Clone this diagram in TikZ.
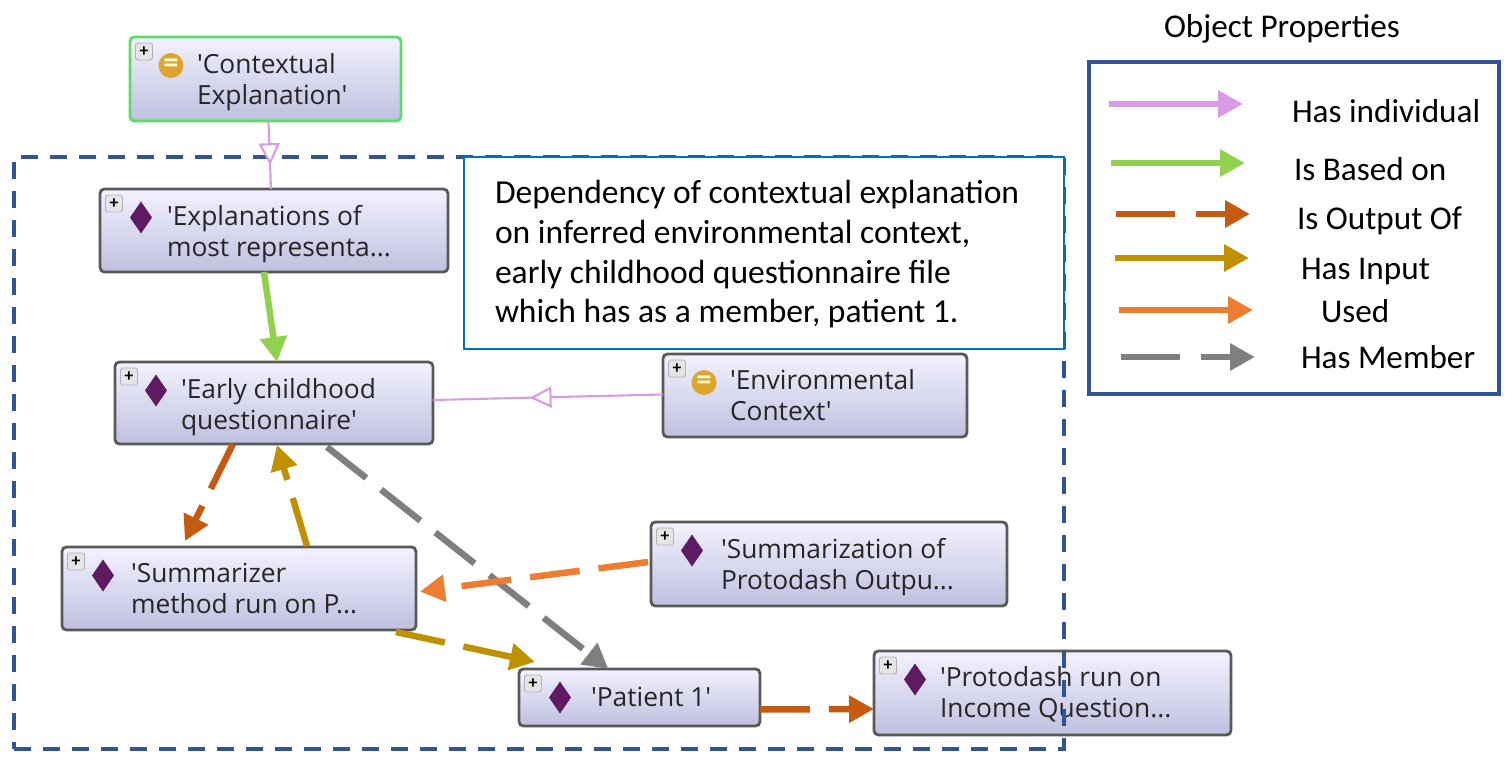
\documentclass[tikz,border=0pt]{standalone}
\usepackage{xcolor}
\usepackage{fontspec}
\setmainfont{Carlito}
\newfontfamily\boxfont{Open Sans}
\usepackage{tikz}
\usetikzlibrary{positioning, shapes.geometric, arrows.meta, decorations.markings}

\definecolor{framecol}{HTML}{2F5597}
\definecolor{notecol}{HTML}{0070C0}
\definecolor{indcol}{HTML}{D89CE6}
\definecolor{basedcol}{HTML}{92D050}
\definecolor{outcol}{HTML}{C55A11}
\definecolor{inputcol}{HTML}{BF9000}
\definecolor{usedcol}{HTML}{ED7D31}
\definecolor{membercol}{HTML}{7F7F7F}
\definecolor{diamondcol}{HTML}{5E1B62}
\definecolor{classcol}{HTML}{DDA52D}
\definecolor{rootcol}{HTML}{5FD968}

\tikzset{
  every node/.style={outer sep=0pt},
  classbox/.style={draw=black!65, line width=1.6pt, rounded corners=2.5pt, top color=white!95!blue, bottom color=blue!50!black!25, inner sep=0pt, anchor=north west},
  boxtext/.style={font=\boxfont\fontsize{15}{17.8}\selectfont, text=black!85, align=left, anchor=north west, inner sep=0pt},
  plusicon/.style={draw=black!30, fill=black!10, rounded corners=1pt, line width=.5pt, minimum size=.34cm, inner sep=0pt, font=\bfseries\normalsize},
  diamondicon/.style={diamond, fill=diamondcol, minimum width=.44cm, minimum height=.64cm, inner sep=0pt},
  classicon/.style={circle, fill=classcol, minimum size=.5cm, inner sep=0pt, text=white!85!yellow, font=\bfseries\LARGE},
  legendtext/.style={font=\fontsize{18.9}{22}\selectfont, anchor=base west, inner sep=0pt},
  thick line/.style={line width=.13cm, -{Triangle[length=.5cm, width=.52cm]}},
  dash line/.style={thick line, dash pattern=on 1cm off .38cm},
  legend dash/.style={thick line, dash pattern=on 1.18cm off .42cm},
  open mid/.style={indcol, line width=1.2pt, postaction={decorate}, decoration={markings, mark=at position #1 with {\arrow[line width=1.2pt]{Triangle[open, fill=white, length=.44cm, width=.42cm]}}}}
}

\begin{document}
\begin{tikzpicture}[x=.02cm, y=-.02cm]
  \useasboundingbox (0,0) rectangle (1512,761);

  % ontology boxes
  \node (contextual) [classbox, draw=rootcol, minimum width=5.42cm, minimum height=1.68cm] at (130,37) {};
  \node (explanations) [classbox, minimum width=6.96cm, minimum height=1.66cm] at (100,189) {};
  \node (early) [classbox, minimum width=6.36cm, minimum height=1.64cm] at (115,362) {};
  \node (environmental) [classbox, minimum width=6.08cm, minimum height=1.66cm] at (663,354) {};
  \node (summarizer) [classbox, minimum width=7.08cm, minimum height=1.66cm] at (62,547) {};
  \node (summarization) [classbox, minimum width=7.12cm, minimum height=1.68cm] at (651,522) {};
  \node (patient) [classbox, minimum width=4.82cm, minimum height=1.14cm] at (519,669) {};
  \node (protodash) [classbox, minimum width=7.14cm, minimum height=1.68cm] at (874,651) {};

  \foreach \n in {contextual, explanations, early, environmental, summarizer, summarization, patient, protodash}
    \node (\n-plus) [plusicon, below right=.12cm and .11cm of \n.north west] {+};
  \foreach \n in {explanations, early, summarizer, summarization, patient, protodash}
    \node (\n-icon) [diamondicon] at ([shift={(27,14)}]\n-plus.center) {};
  \foreach \n in {contextual, environmental}
    \node (\n-icon) [classicon] at ([shift={(27,14)}]\n-plus.center) {=};

  \node (contextual-text) [boxtext] at (197,53) {'Contextual\\Explanation'};
  \node (explanations-text) [boxtext] at (167,205) {'Explanations of\\most representa...};
  \node (early-text) [boxtext] at (181,378) {'Early childhood\\questionnaire'};
  \node (environmental-text) [boxtext] at (730,369) {'Environmental\\Context'};
  \node (summarizer-text) [boxtext] at (131,563) {'Summarizer\\method run on P...};
  \node (summarization-text) [boxtext] at (721,538) {'Summarization of\\Protodash Outpu...};
  \node (patient-text) [boxtext] at (591,687) {'Patient 1'};
  \node (protodash-text) [boxtext] at (940,666) {'Protodash run on\\Income Question...};

  % dashed frame and note
  \node (frame) [minimum width=21cm, minimum height=11.84cm, inner sep=0pt, anchor=north west, draw=framecol, line width=.07cm, dash pattern=on .34cm off .24cm] at (14,157) {};
  \node (note) [draw=notecol, line width=.05cm, fill=white, minimum width=12cm, minimum height=3.84cm, anchor=north west, inner sep=0pt] at (464,157) {};
  \node (note-text) [font=\fontsize{19.1}{22.7}\selectfont, align=left, anchor=north west, inner sep=0pt] at (495,180) {Dependency of contextual explanation\\on inferred environmental context,\\early childhood questionnaire file\\which has as a member, patient 1.};

  % connectors
  \draw [open mid=.65] ([xshift=.06cm]contextual.south) -- ([xshift=-.06cm]explanations.north);
  \draw [open mid=.58] ([yshift=.02cm]environmental.west) -- ([yshift=.06cm]early.east);
  \draw [thick line, basedcol] ([shift={(-10,0)}]explanations.south) -- ([shift={(3,0)}]early.north);
  \draw [dash line, outcol] ([shift={(-41,0)}]early.south) -- ([shift={(-54,-6)}]summarizer.north);
  \draw [dash line, inputcol] ([shift={(68,-1)}]summarizer.north) -- ([shift={(3,1)}]early.south);
  \draw [dash line, membercol] ([shift={(53,3)}]early.south) -- ([shift={(-31,0)}]patient.north);
  \draw [dash line, usedcol] ([shift={(-3,-2)}]summarization.west) -- ([shift={(4,3)}]summarizer.east);
  \draw [dash line, inputcol] ([shift={(-20,2)}]summarizer.south east) -- ([shift={(16,-7)}]patient.north west);
  \draw [dash line, outcol] ([yshift=-.24cm]patient.east) -- ([yshift=-.32cm]protodash.west);

  % object properties box
  \node (legend-title) [legendtext] at (1164,37) {Object Properties};
  \node (legend) [draw=framecol, line width=.08cm, minimum width=8.2cm, minimum height=6.64cm, anchor=north west, inner sep=0pt] at (1089,62) {};
  \foreach \y/\n/\t/\c/\s/\dx/\tx/\ty in {
      104/individual/Has individual/indcol/thick line/1109/1292/122,
      163/based/Is Based on/basedcol/thick line/1111/1294/180,
      214/output/Is Output Of/outcol/legend dash/1116/1297/229,
      258/input/Has Input/inputcol/thick line/1115/1301/279,
      310/used/Used/usedcol/thick line/1119/1321/322,
      357/member/Has Member/membercol/legend dash/1121/1301/368} {
    \coordinate (\n-a) at (\dx,\y);
    \coordinate (\n-b) at ([shift={(134,0)}]\n-a);
    \draw [\s, \c] (\n-a) -- (\n-b);
    \node (\n-label) [legendtext] at (\tx,\ty) {\t};
  }
\end{tikzpicture}
\end{document}
